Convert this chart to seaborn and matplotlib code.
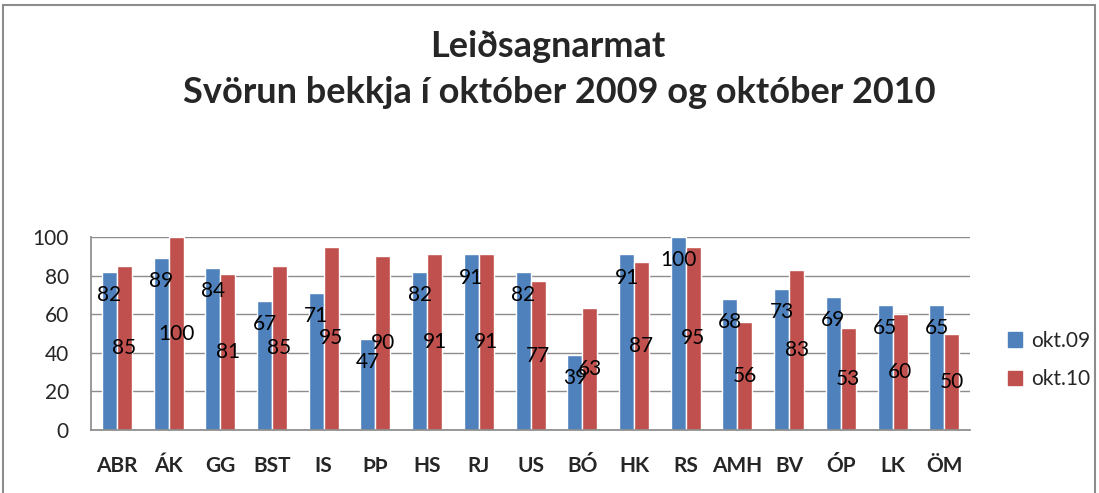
import numpy as np
import pandas as pd
import seaborn as sns
import matplotlib.pyplot as plt
from matplotlib.patches import Rectangle

# data
schools = ['ABR', 'ÁK', 'GG', 'BST', 'IS', 'ÞÞ', 'HS', 'RJ', 'US', 'BÓ',
           'HK', 'RS', 'AMH', 'BV', 'ÓP', 'LK', 'ÖM']
okt09 = [82, 89, 84, 67, 71, 47, 82, 91, 82, 39, 91, 100, 68, 73, 69, 65, 65]
okt10 = [85, 100, 81, 85, 95, 90, 91, 91, 77, 63, 87, 95, 56, 83, 53, 60, 50]
series = ['okt.09', 'okt.10']
colors = ['#4F81BD', '#C0504D']

df = pd.DataFrame({
    'skoli': schools * 2,
    'svorun': okt09 + okt10,
    'timi': [series[0]] * len(schools) + [series[1]] * len(schools),
})

sns.set_theme(style='white')
plt.rcParams['font.family'] = ['Lato', 'DejaVu Sans']

fig = plt.figure(figsize=(10.99, 4.93), dpi=100)
ax = fig.add_axes([0.0828, 0.128, 0.8, 0.391])

sns.barplot(data=df, x='skoli', y='svorun', hue='timi', palette=colors,
            width=0.58, saturation=1, gap=0, ax=ax, legend=False)

ax.set_ylim(0, 100)
ax.set_xlim(-0.5, len(schools) - 0.5)
ax.set_yticks(range(0, 101, 20))
ax.yaxis.grid(True, color='#8c8c8c', linewidth=1)
ax.set_axisbelow(True)
ax.set_xlabel('')
ax.set_ylabel('')
for side in ['top', 'right']:
    ax.spines[side].set_visible(False)
for side in ['left', 'bottom']:
    ax.spines[side].set_color('#8c8c8c')
ax.tick_params(axis='y', length=0, labelsize=15, pad=16)
ax.tick_params(axis='x', length=0, labelsize=15, pad=19)
for lbl in ax.get_xticklabels():
    lbl.set_fontweight('bold')

# data labels: blue near the top of the bar, red at mid height
for container, vals, kind in zip(ax.containers, [okt09, okt10], ['top', 'mid']):
    for bar, v in zip(container, vals):
        xc = bar.get_x() + bar.get_width() / 2
        yc = v - 12 if kind == 'top' else v / 2
        ax.text(xc, yc, str(v), ha='center', va='center', fontsize=15,
                color='black')

# legend
handles = [Rectangle((0, 0), 1, 1, color=c) for c in colors]
fig.legend(handles, series, loc='center left', bbox_to_anchor=(0.9, 0.27),
           frameon=False, fontsize=15, handlelength=0.7, handleheight=0.7,
           handletextpad=0.4, labelspacing=0.9)

fig.text(0.498, 0.905, 'Leiðsagnarmat', ha='center', va='center',
         fontsize=26, fontweight='bold')
fig.text(0.509, 0.812, 'Svörun bekkja í október 2009 og október 2010',
         ha='center', va='center', fontsize=26, fontweight='bold')

# outer chart border
fig.add_artist(Rectangle((0.003, -0.01), 0.993, 1.0, transform=fig.transFigure,
                         fill=False, edgecolor='#8c8c8c', linewidth=1.5))

fig.savefig('out.png', dpi=100)
